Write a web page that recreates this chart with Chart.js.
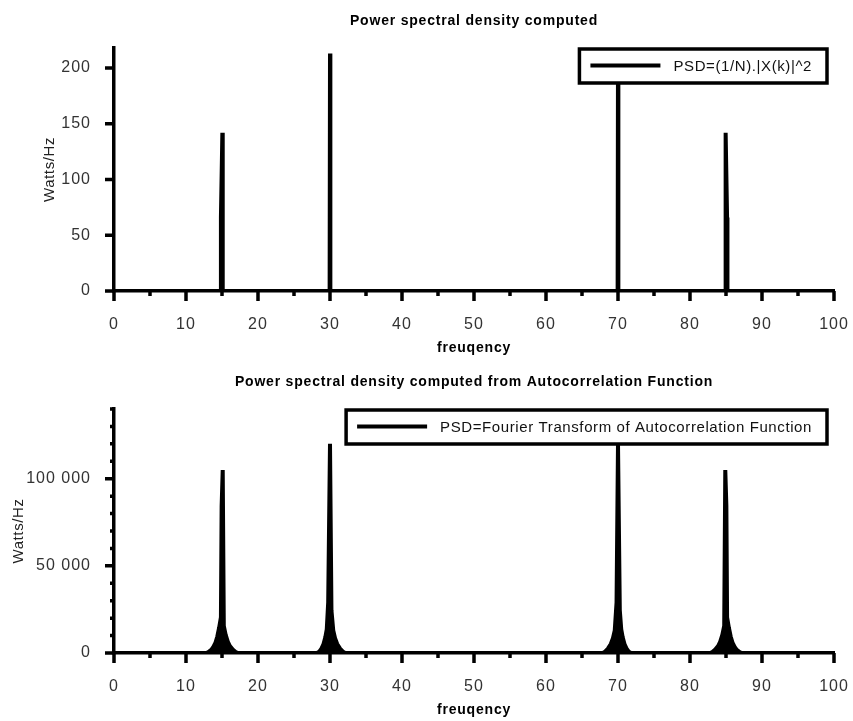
<!DOCTYPE html>
<html>
<head>
<meta charset="utf-8">
<title>Power spectral density</title>
<script src="https://cdn.jsdelivr.net/npm/chart.js@4.4.1/dist/chart.umd.min.js"></script>
<style>
  html, body { margin: 0; padding: 0; background: #fff; }
  #wrap { position: relative; width: 853px; height: 721px; }
  canvas { position: absolute; left: 0; }
  #chart-top { top: 0; }
  #chart-acf { top: 360px; }
</style>
</head>
<body>
<div id="wrap">
  <canvas id="chart-top" width="853" height="360"></canvas>
  <canvas id="chart-acf" width="853" height="361"></canvas>
</div>
<script>
/* Two PSD estimates of the same 15/30 Hz test signal (fs = 100 Hz) */

const FONT = "'Liberation Sans', Arial, Helvetica, sans-serif";

// ---- Data ----

const freqTicks = [0, 10, 20, 30, 40, 50, 60, 70, 80, 90, 100];

// PSD = (1/N).|X(k)|^2
const psdFreq = [0, 14.8, 14.85, 15.05, 15.1, 29.95, 30.0, 30.05, 69.95, 70.0, 70.05, 84.9, 84.95, 85.15, 85.2, 100];
const psdPower = [0, 0, 66, 142, 0, 0, 213, 0, 0, 213, 0, 0, 142, 66, 0, 0];
const psdTicks = [0, 50, 100, 150, 200];

// PSD = Fourier transform of the autocorrelation function
const acfFreq = [
    0, 12.8, 13.1, 13.5, 13.8, 14.1, 14.35, 14.6, 14.85, 14.95, 15.1, 15.25, 15.5, 15.8, 16.1, 16.5, 16.9, 17.2,
    28.2, 28.5, 28.8, 29.1, 29.35, 29.55, 29.75, 30.0, 30.2, 30.45, 30.7, 31.0, 31.4, 31.8, 32.1,
    67.9, 68.2, 68.6, 69.0, 69.3, 69.55, 69.8, 70.0, 70.25, 70.45, 70.65, 70.9, 71.2, 71.5, 71.8,
    82.8, 83.1, 83.5, 83.9, 84.2, 84.5, 84.75, 84.9, 85.05, 85.15, 85.4, 85.65, 85.9, 86.2, 86.5, 86.9, 87.2, 100,
];
const acfPower = [
    0, 0, 500, 1800, 3500, 6000, 9500, 14500, 20500, 84500, 105000, 15500, 10500, 6500, 4000, 2000, 600, 0,
    0, 800, 2400, 5200, 9000, 13500, 29000, 120000, 24500, 13000, 8500, 5200, 2500, 800, 0,
    0, 800, 2500, 5200, 8500, 13000, 29000, 120000, 24500, 13500, 9000, 5200, 2400, 800, 0,
    0, 600, 2000, 4000, 6500, 10500, 15500, 105000, 84500, 20500, 14500, 9500, 6000, 3500, 1800, 500, 0, 0,
];
const acfTicks = [0, 50000, 100000];

// ---- Frame plugin: ticks, titles, legend box ----

function drawText(ctx, str, x, y, font, align, spacing) {
    ctx.font = font;
    ctx.textAlign = align;
    ctx.textBaseline = "middle";
    ctx.letterSpacing = `${spacing}px`;
    ctx.fillText(str, x, y);
}

const scilabFrame = {
    id: "scilabFrame",
    beforeDraw(chart) {
        // slightly wider tick labels
        chart.ctx.letterSpacing = "1px";
    },
    afterDraw(chart, args, o) {
        const { ctx, chartArea: a, scales: { x, y } } = chart;
        ctx.save();
        ctx.strokeStyle = "#000";
        ctx.fillStyle = "#000";
        ctx.lineCap = "butt";
        ctx.lineWidth = 3.5;

        // tick marks: majors every 10, minors every 5 on x
        ctx.beginPath();
        for (let v = 0; v <= 100; v += 5) {
            const px = x.getPixelForValue(v);
            ctx.moveTo(px, a.bottom);
            ctx.lineTo(px, a.bottom + (v % 10 === 0 ? 10 : 5));
        }
        const step = o.yMinor || o.yMajor;
        for (let v = 0; v <= y.max; v += step) {
            const py = y.getPixelForValue(v);
            ctx.moveTo(a.left, py);
            ctx.lineTo(a.left - (v % o.yMajor === 0 ? 9 : 4), py);
        }
        ctx.stroke();

        // titles
        const cx = (a.left + a.right) / 2;
        drawText(ctx, o.title, cx, a.top - 27, `bold 14px ${FONT}`, "center", 0.8);
        drawText(ctx, "freuqency", cx, a.bottom + 57, `bold 14px ${FONT}`, "center", 0.8);

        ctx.save();
        ctx.translate(o.yLabelX, (a.top + a.bottom) / 2);
        ctx.rotate(-Math.PI / 2);
        ctx.fillStyle = "#222";
        drawText(ctx, "Watts/Hz", 0, 0, `15px ${FONT}`, "center", 0.6);
        ctx.restore();

        // legend box in the upper right corner
        ctx.font = `15px ${FONT}`;
        ctx.letterSpacing = "0.6px";
        const tw = ctx.measureText(o.legend).width;
        const boxH = 34;
        const boxW = 95 + tw + 14;
        const boxL = a.right - 7 - boxW;
        const boxT = a.top + 1;
        ctx.fillStyle = "#fff";
        ctx.fillRect(boxL, boxT, boxW, boxH);
        ctx.lineWidth = 3.5;
        ctx.strokeRect(boxL, boxT, boxW, boxH);
        ctx.lineWidth = 4;
        ctx.beginPath();
        ctx.moveTo(boxL + 11, boxT + 16.5);
        ctx.lineTo(boxL + 81, boxT + 16.5);
        ctx.stroke();
        ctx.fillStyle = "#111";
        drawText(ctx, o.legend, boxL + 94, boxT + 17.5, `15px ${FONT}`, "left", 0.6);

        ctx.restore();
        ctx.letterSpacing = "0px";
    },
};

// ---- Chart builder ----

function spacedThousands(v) {
    return String(v).replace(/\B(?=(\d{3})+(?!\d))/g, " ");
}

function fixedTicks(values) {
    return (s) => { s.ticks = values.map((v) => ({ value: v })); };
}

function noPadding(size) {
    return (s) => {
        Object.assign(s, size);
        s.paddingLeft = s.paddingRight = s.paddingTop = s.paddingBottom = 0;
    };
}

function buildChart(canvasId, freq, power, yTicks, p) {
    const ctx = document.getElementById(canvasId).getContext("2d");
    const tickFont = { family: FONT, size: 16 };
    return new Chart(ctx, {
        type: "line",
        data: {
            datasets: [{
                data: freq.map((f, i) => ({ x: f, y: power[i] })),
                borderColor: "#000",
                backgroundColor: "#000",
                borderWidth: 4,
                borderJoinStyle: "bevel",
                borderCapStyle: "butt",
                fill: p.fill ? "origin" : false,
                tension: 0,
                pointRadius: 0,
            }],
        },
        options: {
            responsive: false,
            animation: false,
            events: [],
            layout: { padding: { top: p.top, right: 19, left: 0, bottom: 0 } },
            plugins: {
                legend: { display: false },
                title: { display: false },
                tooltip: { enabled: false },
                scilabFrame: p.frame,
            },
            scales: {
                x: {
                    type: "linear",
                    min: 0,
                    max: 100,
                    afterBuildTicks: fixedTicks(freqTicks),
                    afterFit: noPadding({ height: p.xHeight }),
                    grid: { display: false },
                    border: { display: true, color: "#000", width: 3.5 },
                    ticks: { padding: 16, maxRotation: 0, color: "#333", font: tickFont },
                },
                y: {
                    min: 0,
                    max: p.yMax,
                    afterBuildTicks: fixedTicks(yTicks),
                    afterFit: noPadding({ width: 114 }),
                    grid: { display: false },
                    border: { display: true, color: "#000", width: 3.5 },
                    ticks: {
                        padding: 15,
                        color: "#333",
                        font: tickFont,
                        callback: (v) => spacedThousands(v),
                    },
                },
            },
        },
        plugins: [scilabFrame],
    });
}

buildChart("chart-top", psdFreq, psdPower, psdTicks, {
    top: 48,
    xHeight: 69,
    yMax: 218,
    fill: false,
    frame: {
        title: "Power spectral density computed",
        legend: "PSD=(1/N).|X(k)|^2",
        yLabelX: 50,
        yMajor: 50,
        yMinor: 0,
    },
});

buildChart("chart-acf", acfFreq, acfPower, acfTicks, {
    top: 49,
    xHeight: 68,
    yMax: 140000,
    fill: true,
    frame: {
        title: "Power spectral density computed from Autocorrelation Function",
        legend: "PSD=Fourier Transform of Autocorrelation Function",
        yLabelX: 19,
        yMajor: 50000,
        yMinor: 10000,
    },
});
</script>
</body>
</html>
